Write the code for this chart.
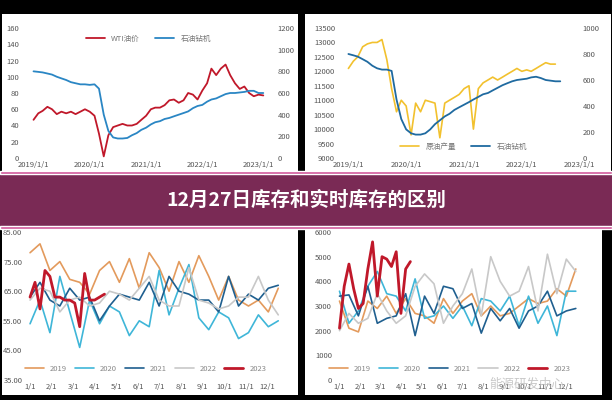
import numpy as np, pandas as pd, matplotlib
matplotlib.use("Agg")
import matplotlib.pyplot as plt, seaborn as sns
from matplotlib.patches import Rectangle

sns.set_theme(style="white")
plt.rcParams['font.family'] = ['Noto Sans CJK SC', 'DejaVu Sans']

# ---- data ----
wti = [47,55,58,63,60,54,57,55,57,54,57,60, 57,52,30,2,28,38,40,42,40,40,42,47,
       52,60,62,62,65,71,72,68,71,80,78,72, 83,92,110,102,110,115,102,92,85,88,80,76, 78,77]
rigs1 = [800,795,790,780,770,750,735,720,700,690,680,680, 675,680,640,400,250,190,180,180,185,210,230,260,
         280,310,330,340,360,370,385,400,415,430,460,480, 490,520,540,550,570,590,600,600,605,610,620,620, 600,600]
prod = [12100,12350,12500,12850,12950,13000,13000,13100,12400,11400,10600,11000,10800,9800,10900,10600,11000,
        10950,10900,9700,10900,11000,11100,11200,11400,11500,10000,11400,11600,11700,11800,11700,11800,11900,
        12000,12100,12000,12050,12000,12100,12200,12300,12250,12250]
rigs2 = [800,790,780,760,740,710,690,680,680,670,450,300,220,190,180,180,190,220,260,290,320,340,370,390,410,
         430,450,470,490,500,520,540,560,575,590,600,605,610,620,625,615,600,595,590,590]
years = ["2019","2020","2021","2022","2023"]
crude = {
 "2019":[78,81,72,75,69,68,64,72,75,68,76,66,78,73,65,75,68,77,70,62,70,62,60,62,58,66],
 "2020":[54,62,51,70,58,46,62,54,60,58,50,55,53,72,57,66,74,56,52,58,56,49,51,57,53,55],
 "2021":[63,68,62,60,66,62,63,55,60,64,63,62,68,60,70,65,64,62,62,58,70,60,64,62,66,67],
 "2022":[62,66,65,58,62,63,60,61,65,64,62,66,70,62,60,60,73,62,61,59,60,63,63,70,62,57],
 "2023":[63,68,59,72,70,63,63,62,62,61,53,71,62,62,63,64]}
gas = {
 "2019":[3200,2100,1950,3200,2900,3400,2700,3300,2700,2600,2300,3300,2700,3200,3500,2600,3000,2600,2700,3000,3300,3100,3200,3700,3400,4500],
 "2020":[3600,2300,2800,3800,4400,3500,3400,2800,4100,2500,2600,3000,2500,3000,2200,3300,3200,2800,3400,2200,3400,2300,3000,1800,3600,3600],
 "2021":[3400,3450,2600,3800,2300,2500,2600,3500,1800,3400,2700,3800,3700,2900,3100,1900,2900,2400,2900,2100,2800,3000,3600,2600,2800,2900],
 "2022":[2000,2700,2300,2500,3500,2800,2300,2600,3800,4300,3900,2300,3000,3500,4500,2600,5000,4000,3400,3600,4600,2800,5100,3500,4900,4400],
 "2023":[2100,3800,4700,3700,2900,3100,4500,5600,3400,5000,4900,4600,5200,2700,4500,4800]}
month_ticks = ["1/1","2/1","3/1","4/1","5/1","6/1","7/1","8/1","9/1","10/1","11/1","12/1"]
ycol = {"2019":"#e39a5c","2020":"#3fb6d8","2021":"#1f5f8f","2022":"#c8c8c8","2023":"#c0182a"}

fig = plt.figure(figsize=(6.12,4), dpi=100, facecolor="black")
bg = fig.add_axes([0,0,1,1], zorder=-10); bg.set_axis_off(); bg.set_xlim(0,1); bg.set_ylim(0,1)
for r in [(0.003,0.57,0.484,0.395),(0.498,0.57,0.5,0.395),(0.003,0.012,0.484,0.418),(0.498,0.012,0.485,0.418)]:
    bg.add_patch(Rectangle(r[:2],r[2],r[3],facecolor="white",edgecolor="none"))

tkw = dict(labelsize=5.5, labelcolor="#555555", length=0, pad=2)
def style(ax):
    for s in ax.spines.values(): s.set_visible(False)
    ax.set_facecolor("none"); ax.tick_params(**tkw)
    ax.set_xlabel(""); ax.set_ylabel("")

yt = pd.date_range("2019-01-01","2023-01-01",freq="YS")
ylab = [f"{d.year}/1/1" for d in yt]

# TL
ax = fig.add_axes([0.036,0.605,0.413,0.325]); ax2 = ax.twinx()
d1 = pd.date_range("2019-01-01", periods=len(wti), freq="MS")
sns.lineplot(x=d1, y=wti, ax=ax, color="#c0182a", lw=1.3, label="WTI油价", legend=False)
sns.lineplot(x=d1, y=rigs1, ax=ax2, color="#2a86c4", lw=1.3, label="石油钻机", legend=False)
ax.set_ylim(0,160); ax.set_yticks(range(0,161,20)); ax2.set_ylim(0,1200); ax2.set_yticks(range(0,1201,200))
ax.set_xticks(yt); ax.set_xticklabels(ylab); style(ax); style(ax2)
h1,l1 = ax.get_legend_handles_labels(); h2,l2 = ax2.get_legend_handles_labels()
ax.legend(h1+h2,l1+l2,loc="upper center",ncol=2,frameon=False,fontsize=5.5,bbox_to_anchor=(0.5,1.0),labelcolor="#777777",handlelength=2.5)

# TR
ax = fig.add_axes([0.552,0.605,0.395,0.325]); ax2 = ax.twinx()
d2 = pd.date_range("2019-01-01", periods=len(prod), freq="MS")
d3 = pd.date_range("2019-01-01", periods=len(rigs2), freq="MS")
sns.lineplot(x=d2, y=prod, ax=ax, color="#f2c12e", lw=1.2, label="原油产量", legend=False)
sns.lineplot(x=d3, y=rigs2, ax=ax2, color="#1f6aa0", lw=1.3, label="石油钻机", legend=False)
ax.set_ylim(9000,13500); ax.set_yticks(range(9000,13501,500)); ax2.set_ylim(0,1000); ax2.set_yticks(range(0,1001,200))
ax.set_xticks(yt); ax.set_xticklabels(ylab); style(ax); style(ax2)
h1,l1 = ax.get_legend_handles_labels(); h2,l2 = ax2.get_legend_handles_labels()
ax.legend(h1+h2,l1+l2,loc="lower center",ncol=2,frameon=False,fontsize=5.5,bbox_to_anchor=(0.52,0.0),labelcolor="#777777",handlelength=2.5)

def seasonal(rect, data, ylim, yticks, fmt):
    ax = fig.add_axes(rect)
    for yr in years:
        v = data[yr]
        x = np.arange(len(v))*(2 if yr!="2023" else 1)
        sns.lineplot(x=x, y=v, ax=ax, color=ycol[yr], lw=2.0 if yr=="2023" else 1.2, label=yr, legend=False)
    ax.set_ylim(*ylim); ax.set_yticks(yticks); ax.set_yticklabels([fmt(t) for t in yticks])
    ax.set_xlim(-1,53); ax.set_xticks(np.arange(12)*4.35); ax.set_xticklabels(month_ticks)
    style(ax)
    ax.legend(loc="lower center",ncol=5,frameon=False,fontsize=5.5,bbox_to_anchor=(0.45,0.0),labelcolor="#888888",handlelength=2.5,columnspacing=1.0)
    return ax
seasonal([0.041,0.05,0.438,0.37], crude, (35,85), range(35,86,10), lambda t:f"{t}.00")
ax = seasonal([0.547,0.05,0.417,0.37], gas, (0,6000), range(0,6001,1000), lambda t:f"{t}")
fig.text(0.86,0.03,"能源研发中心",fontsize=9,color="#bbbbbb",ha="center",alpha=0.8,zorder=8)

# banner
ov = fig.add_axes([0,0,1,1], zorder=10); ov.set_axis_off(); ov.set_xlim(0,1); ov.set_ylim(0,1); ov.patch.set_alpha(0)
ov.add_patch(Rectangle((0,0.43),1,0.14,facecolor="#7a2a55",edgecolor="none"))
for yb in (0.568,0.432):
    ov.add_patch(Rectangle((0,yb-0.004),1,0.008,facecolor="#d0559a"))
ov.text(0.5,0.5,"12月27日库存和实时库存的区别",ha="center",va="center",color="white",fontsize=14,fontweight="bold")
fig.savefig("out.png", dpi=100, facecolor="black")
